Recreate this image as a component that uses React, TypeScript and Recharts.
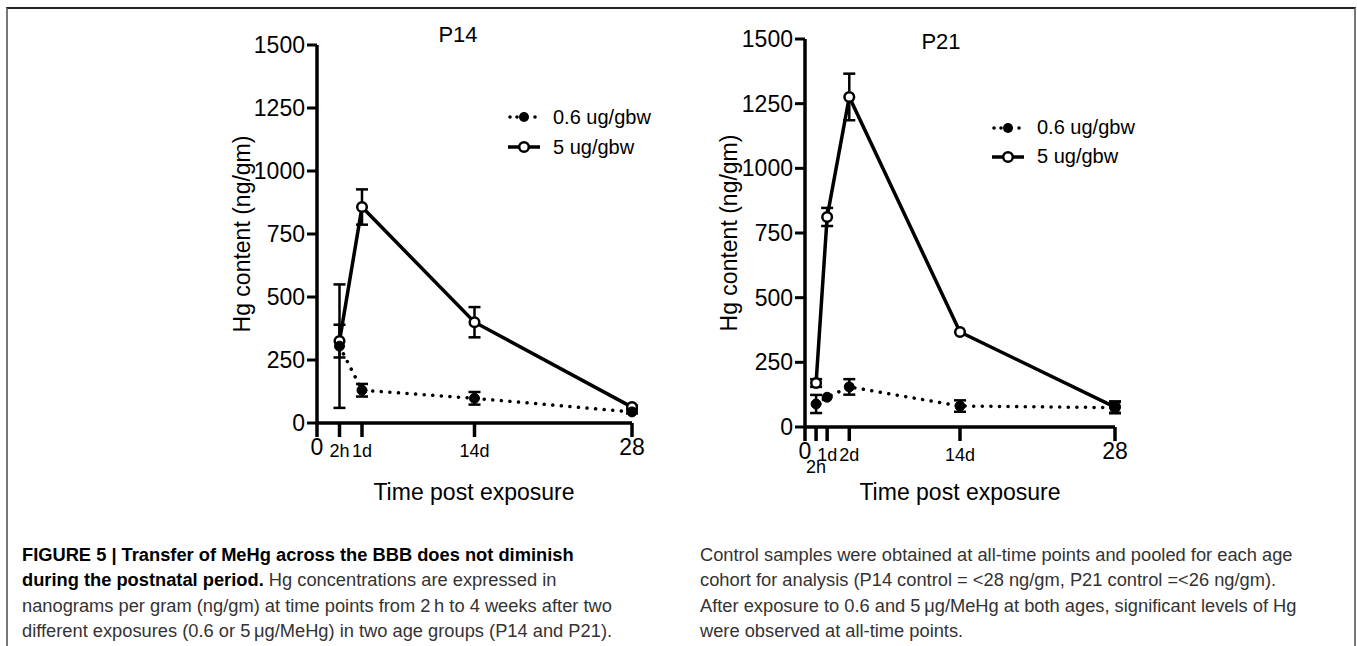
import React from 'react';
import { LineChart, Line, XAxis, YAxis, ErrorBar, Legend } from 'recharts';

const FONT = '"Liberation Sans", Arial, Helvetica, sans-serif';

// P14 panel (x positions are the plotted slots, labels come from the tick arrays)
const p14Days = [2, 4, 14, 28];
const p14Low = [305, 130, 98, 44];
const p14LowErr = [245, 25, 25, 6];
const p14High = [325, 857, 400, 63];
const p14HighErr = [65, 70, 60, 6];
const p14Ticks = [0, 2, 4, 14, 28];
const p14TickLabels = ['0', '2h', '1d', '14d', '28'];

// P21 panel
const p21Days = [1, 2, 4, 14, 28];
const p21Low = [89, 115, 155, 81, 75];
const p21LowErr = [35, 0, 30, 22, 22];
const p21High = [170, 812, 1276, 367, 77];
const p21HighErr = [15, 35, 90, 0, 22];
const p21Ticks = [0, 1, 2, 4, 14, 28];
const p21TickLabels = ['0', '2h', '1d', '2d', '14d', '28'];

const yTicks = [0, 250, 500, 750, 1000, 1250, 1500];
const seriesNames = ['0.6 ug/gbw', '5 ug/gbw'];

const captionLeft = [
  [{ b: true, t: 'FIGURE 5 | Transfer of MeHg across the BBB does not diminish' }],
  [
    { b: true, t: 'during the postnatal period.' },
    { b: false, t: ' Hg concentrations are expressed in' },
  ],
  [{ b: false, t: 'nanograms per gram (ng/gm) at time points from 2\u2009h to 4 weeks after two' }],
  [{ b: false, t: 'different exposures (0.6 or 5\u2009\u03bcg/MeHg) in two age groups (P14 and P21).' }],
];
const captionRight = [
  'Control samples were obtained at all-time points and pooled for each age',
  'cohort for analysis (P14 control = <28 ng/gm, P21 control =<26 ng/gm).',
  'After exposure to 0.6 and 5\u2009\u03bcg/MeHg at both ages, significant levels of Hg',
  'were observed at all-time points.',
];

function buildRows(days: number[], low: number[], lowErr: number[], high: number[], highErr: number[]) {
  return days.map((d, i) => ({
    day: d,
    low: low[i],
    lowErr: lowErr[i],
    high: high[i],
    highErr: highErr[i],
  }));
}

function XTick(props: any) {
  const { x, y, payload, ticks, labels, stagger } = props;
  const label = labels[ticks.indexOf(payload.value)];
  const big = label === '0' || label === '28';
  let cy = y + (big ? 8 : 12);
  if (stagger && label === '2h') cy += 12;
  return (
    <text
      x={x}
      y={cy}
      textAnchor="middle"
      dominantBaseline="central"
      fontSize={big ? 23 : 18}
      fontFamily={FONT}
      fill="#000"
    >
      {label}
    </text>
  );
}

function LegendBox({ rowH }: { rowH: number }) {
  return (
    <div style={{ fontFamily: FONT, fontSize: 20, color: '#000' }}>
      {seriesNames.map((name, i) => (
        <div key={name} style={{ display: 'flex', alignItems: 'center', height: rowH }}>
          <svg width={32} height={14} style={{ marginRight: 13 }}>
            {i === 0 ? (
              <g>
                <circle cx={2} cy={7} r={1.8} fill="#000" />
                <circle cx={9} cy={7} r={1.8} fill="#000" />
                <circle cx={16} cy={7} r={5} fill="#000" />
                <circle cx={27} cy={7} r={1.8} fill="#000" />
              </g>
            ) : (
              <g>
                <line x1={0} y1={7} x2={32} y2={7} stroke="#000" strokeWidth={3.5} />
                <circle cx={16} cy={7} r={4.8} fill="#fff" stroke="#000" strokeWidth={2.5} />
              </g>
            )}
          </svg>
          <span>{name}</span>
        </div>
      ))}
    </div>
  );
}

function Panel(props: {
  rows: any[];
  ticks: number[];
  labels: string[];
  stagger: boolean;
  height: number;
  margin: { top: number; right: number; left: number; bottom: number };
  labelOffset: number;
  legendLeft: number;
  legendTop: number;
  legendRow: number;
}) {
  const { rows, ticks, labels, stagger, height, margin, labelOffset, legendLeft, legendTop, legendRow } = props;
  return (
    <LineChart width={470} height={height} data={rows} margin={margin}>
      <XAxis
        dataKey="day"
        type="number"
        domain={[0, 28]}
        ticks={ticks}
        interval={0}
        height={60}
        axisLine={{ stroke: '#000', strokeWidth: 3.5 }}
        tickLine={{ stroke: '#000', strokeWidth: 3.5 }}
        tickSize={14}
        tickMargin={2}
        tick={(p: any) => <XTick {...p} ticks={ticks} labels={labels} stagger={stagger} />}
      />
      <YAxis
        type="number"
        domain={[0, 1500]}
        ticks={yTicks}
        interval={0}
        width={90}
        axisLine={{ stroke: '#000', strokeWidth: 3.5 }}
        tickLine={{ stroke: '#000', strokeWidth: 3 }}
        tickSize={10}
        tickMargin={2}
        tick={{ fontSize: 23, fill: '#000', fontFamily: FONT }}
        label={{
          value: 'Hg content (ng/gm)',
          angle: -90,
          position: 'insideLeft',
          offset: labelOffset,
          style: { textAnchor: 'middle', fontSize: 23, fill: '#000', fontFamily: FONT },
        }}
      />
      <Legend
        layout="vertical"
        align="center"
        verticalAlign="middle"
        wrapperStyle={{ left: legendLeft, top: legendTop, width: 200 }}
        content={() => <LegendBox rowH={legendRow} />}
      />
      <Line
        dataKey="high"
        name={seriesNames[1]}
        stroke="#000"
        strokeWidth={3.5}
        dot={{ r: 4.8, fill: '#fff', stroke: '#000', strokeWidth: 2.5 }}
        isAnimationActive={false}
      >
        <ErrorBar dataKey="highErr" width={6} stroke="#000" strokeWidth={2.5} direction="y" />
      </Line>
      <Line
        dataKey="low"
        name={seriesNames[0]}
        stroke="#000"
        strokeWidth={3.5}
        strokeDasharray="0.1 8.5"
        strokeLinecap="round"
        dot={{ r: 5, fill: '#000', stroke: '#000', strokeWidth: 1, strokeDasharray: 'none' }}
        isAnimationActive={false}
      >
        <ErrorBar dataKey="lowErr" width={6} stroke="#000" strokeWidth={2.5} direction="y" />
      </Line>
    </LineChart>
  );
}

const txt = (extra: React.CSSProperties): React.CSSProperties => ({
  position: 'absolute',
  fontFamily: FONT,
  color: '#000',
  whiteSpace: 'nowrap',
  ...extra,
});

export default function App() {
  const p14Rows = buildRows(p14Days, p14Low, p14LowErr, p14High, p14HighErr);
  const p21Rows = buildRows(p21Days, p21Low, p21LowErr, p21High, p21HighErr);
  return (
    <div
      style={{
        position: 'absolute',
        left: 0,
        top: 0,
        width: 1357,
        height: 646,
        overflow: 'hidden',
        background: '#fff',
      }}
    >
      <div
        style={{
          position: 'absolute',
          left: 6,
          top: 7,
          width: 1350,
          height: 700,
          boxSizing: 'border-box',
          borderTop: '2px solid #222',
          borderLeft: '2px solid #777',
          borderRight: '2px solid #777',
        }}
      />

      <div style={{ position: 'absolute', left: 200, top: 20 }}>
        <Panel
          rows={p14Rows}
          ticks={p14Ticks}
          labels={p14TickLabels}
          stagger={false}
          height={470}
          margin={{ top: 25, right: 38, left: 27, bottom: 7 }}
          labelOffset={15}
          legendLeft={308}
          legendTop={82}
          legendRow={30}
        />
      </div>
      <div style={{ position: 'absolute', left: 690, top: 14 }}>
        <Panel
          rows={p21Rows}
          ticks={p21Ticks}
          labels={p21TickLabels}
          stagger={true}
          height={476}
          margin={{ top: 25, right: 45, left: 25, bottom: 3 }}
          labelOffset={14}
          legendLeft={302}
          legendTop={99}
          legendRow={29}
        />
      </div>

      <div style={txt({ left: 408, top: 22, width: 100, textAlign: 'center', fontSize: 22 })}>P14</div>
      <div style={txt({ left: 891, top: 29, width: 100, textAlign: 'center', fontSize: 22 })}>P21</div>

      <div style={txt({ left: 364, top: 479, width: 220, textAlign: 'center', fontSize: 23 })}>
        Time post exposure
      </div>
      <div style={txt({ left: 850, top: 479, width: 220, textAlign: 'center', fontSize: 23 })}>
        Time post exposure
      </div>

      <div style={txt({ left: 22, top: 542, fontSize: 18.3, lineHeight: '25.3px', color: '#222' })}>
        {captionLeft.map((line, i) => (
          <div key={i}>
            {line.map((seg, j) => (
              <span key={j} style={{ fontWeight: seg.b ? 700 : 400, color: seg.b ? '#000' : '#333' }}>
                {seg.t}
              </span>
            ))}
          </div>
        ))}
      </div>
      <div style={txt({ left: 700, top: 542, fontSize: 18.3, lineHeight: '25.3px', color: '#333' })}>
        {captionRight.map((line, i) => (
          <div key={i}>{line}</div>
        ))}
      </div>
    </div>
  );
}
